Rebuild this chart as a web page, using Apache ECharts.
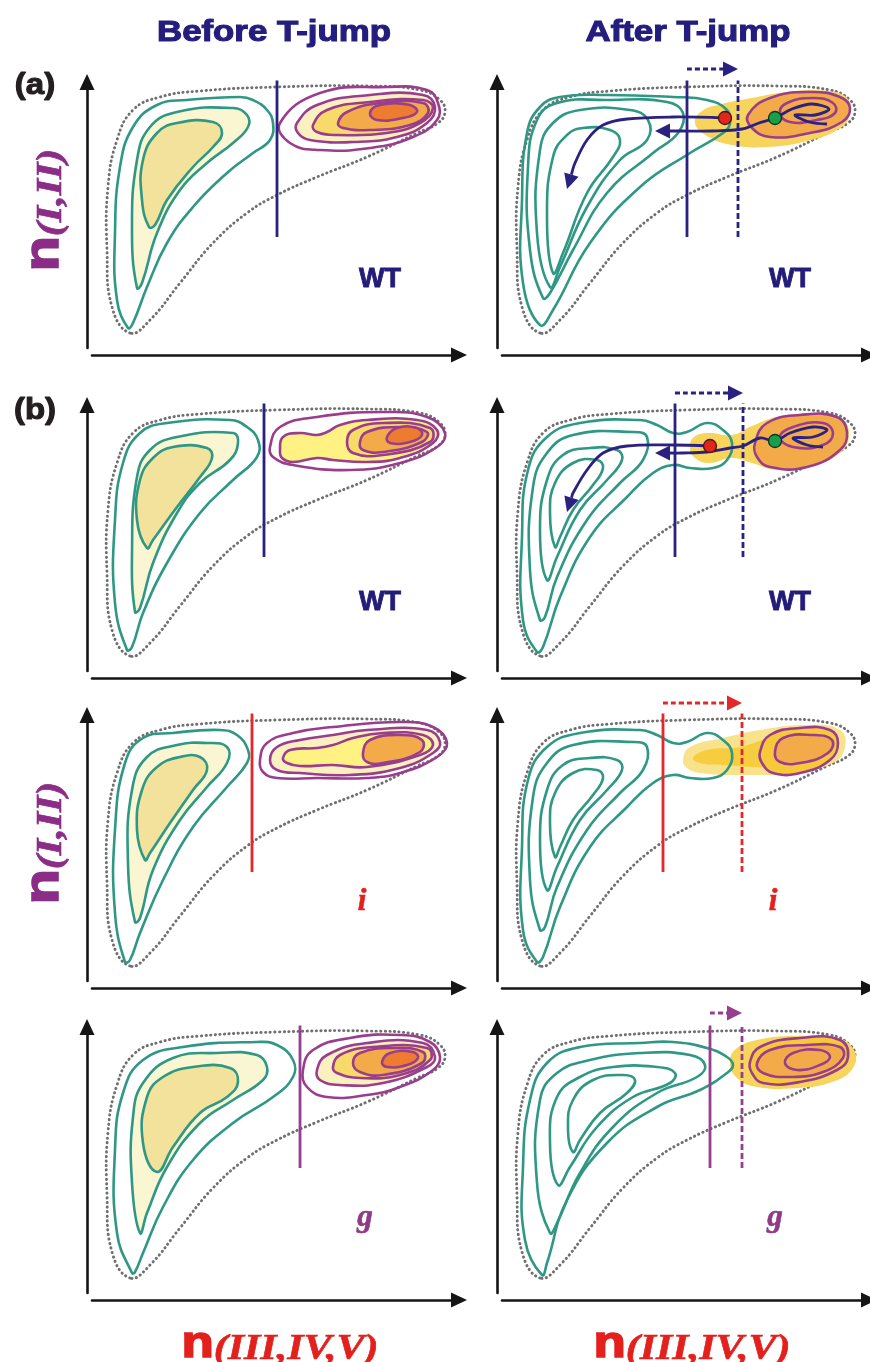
<!DOCTYPE html>
<html>
<head>
<meta charset="utf-8">
<script src="https://cdn.jsdelivr.net/npm/echarts@6.0.0/dist/echarts.min.js"></script>
<style>
html, body { margin: 0; padding: 0; background: #fff; }
#chart { width: 870px; height: 1362px; }
</style>
</head>
<body>
<div id="chart"></div>
<script>
// panel origins (pixel position of the y axis / x axis)
var X0 = [87, 497];
var Y0 = [355, 678, 988, 1300];

// dotted boundary, same in every panel
var outline = [[43,22],[25,48],[20,105],[21,168],[30,215],[46,245],[73,258],[113,264],[190,268],[280,269],[333,265],[353,255],[358,243],[351,232],[330,222],[280,198],[230,178],[190,160],[160,142],[126,112],[93,72],[63,35]];

// ---- row 1, before
var tealL1a = [[41,27],[30,55],[28,122],[33,188],[46,228],[70,250],[100,255],[153,258],[166,255],[180,245],[186,232],[183,215],[166,202],[140,182],[106,148],[80,112],[60,68],[46,32]];
var tealL1b = [[50,67],[45,122],[50,195],[63,228],[90,243],[146,247],[160,240],[161,228],[146,212],[120,192],[93,165],[70,122],[55,72]];
var tealL1c = [[62,128],[55,155],[56,195],[70,222],[90,232],[126,233],[135,222],[126,208],[106,188],[80,155],[68,130]];
var purL1a = [[193,232],[233,262],[300,268],[340,265],[351,252],[350,235],[326,218],[283,207],[233,205],[203,212]];
var purL1b = [[210,232],[230,250],[283,260],[336,260],[348,248],[340,232],[310,218],[266,213],[223,215],[211,222]];
var purL1c = [[226,230],[240,245],[283,253],[336,255],[346,247],[333,232],[300,222],[250,220],[230,223]];
var purL1d = [[251,232],[260,243],[293,252],[336,252],[341,242],[323,230],[283,225],[256,227]];
var purL1e = [[283,242],[293,250],[323,250],[330,243],[316,237],[290,235]];

// ---- row 1, after
var tealR1a = [[43,30],[26,72],[25,155],[30,222],[43,248],[63,258],[110,260],[176,258],[210,255],[230,245],[233,232],[226,222],[193,202],[143,168],[93,112],[56,45]];
var tealR1b = [[46,57],[33,105],[31,188],[40,235],[60,252],[110,255],[170,253],[186,242],[181,222],[156,202],[110,162],[76,105],[53,62]];
var tealR1c = [[53,68],[40,122],[43,205],[56,232],[83,245],[133,245],[151,235],[150,215],[123,195],[90,148],[63,88]];
var tealR1d = [[56,82],[50,138],[56,198],[70,220],[86,227],[113,225],[123,215],[116,198],[90,162],[66,102]];
var blobR1 = [[198,232],[205,244],[225,251],[255,257],[290,263],[330,264],[350,257],[353,241],[342,226],[310,214],[270,208],[235,210],[210,219]];
var purR1a = [[251,240],[273,257],[313,263],[343,258],[353,247],[345,233],[313,222],[273,218],[255,227]];
var purR1b = [[283,242],[290,252],[316,257],[336,252],[338,242],[320,235],[293,233]];
var pathR1a = [[228,237],[176,238],[130,236],[106,230],[90,215],[78,192],[70,166]];
var pathR1b = [[330,231],[312,233],[298,240],[318,240],[332,246],[315,251],[295,246],[278,237],[262,232],[245,226],[215,224],[185,224],[158,224]];

// ---- row 2, before
var tealL2a = [[40,28],[28,75],[28,158],[36,215],[53,245],[80,255],[143,258],[160,251],[171,238],[170,221],[146,198],[113,165],[80,115],[56,65],[45,31]];
var tealL2b = [[48,66],[45,125],[50,201],[63,228],[90,241],[146,245],[151,235],[143,218],[113,195],[90,165],[66,115],[53,70]];
var tealL2c = [[60,130],[50,158],[53,198],[66,220],[86,231],[120,230],[125,220],[113,201],[90,171],[66,138]];
var purL2a = [[183,231],[193,251],[230,261],[296,266],[340,261],[358,245],[350,231],[313,215],[263,208],[206,213],[186,221]];
var purL2b = [[193,228],[196,241],[213,245],[230,243],[240,246],[253,253],[280,258],[330,258],[350,248],[346,235],[313,220],[280,216],[246,218],[230,220],[206,216],[195,220]];
var purL2c = [[260,236],[266,248],[296,255],[343,250],[343,236],[296,223],[266,225]];
var purL2d = [[273,236],[280,246],[313,251],[340,246],[335,236],[296,226],[276,228]];
var purL2e = [[300,241],[310,250],[330,250],[335,243],[323,236],[303,235]];

// ---- row 2, after (teal also used in row 3)
var tealR2a = [[40,26],[26,58],[25,141],[31,208],[50,241],[83,255],[143,258],[160,253],[176,245],[190,246],[210,255],[226,248],[235,235],[230,218],[216,210],[193,210],[176,213],[156,205],[130,181],[93,141],[63,81],[46,31]];
var tealR2b = [[43,58],[33,108],[36,191],[50,225],[76,243],[136,246],[150,241],[146,218],[123,195],[90,158],[60,101],[48,61]];
var tealR2c = [[50,98],[43,148],[50,198],[66,223],[93,230],[120,228],[125,218],[110,198],[83,168],[60,121]];
var tealR2d = [[58,131],[53,165],[58,195],[76,215],[100,218],[106,210],[96,193],[76,168],[63,141]];
var blobR2 = [[193,230],[197,241],[212,245],[235,243],[255,252],[280,261],[315,264],[345,258],[352,243],[343,225],[315,212],[280,208],[255,215],[235,220],[212,215],[198,220]];
var purR2a = [[258,235],[270,255],[303,263],[340,261],[350,246],[343,228],[310,211],[273,211],[260,221]];
var purR2b = [[283,241],[296,251],[326,255],[336,245],[326,233],[296,231]];
var pathR2a = [[213,232],[176,233],[130,232],[106,225],[90,208],[76,185],[70,166]];
var pathR2b = [[326,231],[310,233],[296,240],[316,241],[330,248],[316,251],[293,245],[278,237],[263,240],[246,232],[233,230],[210,226],[185,225],[158,225]];

// ---- row 3 (i)
var tealL3a = [[38,26],[28,75],[28,158],[38,225],[56,250],[86,255],[133,258],[150,253],[161,238],[160,225],[140,201],[106,161],[76,108],[53,55],[43,28]];
var tealL3b = [[48,66],[41,125],[45,198],[60,231],[90,243],[120,245],[140,241],[140,225],[120,201],[93,168],[66,118],[53,70]];
var tealL3c = [[58,128],[50,158],[55,198],[70,221],[93,231],[113,231],[120,218],[106,198],[83,165],[63,135]];
var purL3a = [[173,228],[180,245],[206,255],[246,261],[313,266],[346,261],[360,245],[350,231],[313,215],[280,210],[230,210],[190,210],[176,216]];
var purL3b = [[183,228],[190,241],[213,248],[246,253],[280,258],[340,258],[353,246],[346,235],[313,220],[263,213],[213,215],[190,218]];
var purL3c = [[196,230],[203,238],[230,240],[246,243],[266,250],[296,255],[336,253],[346,243],[333,233],[280,221],[246,223],[213,222],[200,225]];
var purL3d = [[276,235],[283,248],[313,253],[335,248],[333,236],[296,225],[280,226]];
var bandR3a = [[186,228],[193,241],[226,250],[263,258],[310,263],[343,258],[348,241],[336,225],[293,215],[243,213],[203,215],[190,220]];
var bandR3b = [[196,230],[210,238],[243,241],[276,251],[326,258],[341,241],[326,228],[276,221],[226,223],[203,225]];
var purR3a = [[263,236],[273,253],[303,260],[333,258],[341,245],[333,228],[303,215],[276,215],[265,225]];
var purR3b = [[278,236],[286,250],[316,253],[335,248],[331,235],[303,225],[283,226]];

// ---- row 4 (g)
var tealL4a = [[45,27],[30,67],[28,150],[36,207],[56,240],[96,253],[170,258],[190,255],[206,240],[206,223],[186,203],[146,177],[106,140],[76,93],[56,47],[48,28]];
var tealL4b = [[53,67],[45,117],[46,183],[56,217],[86,242],[130,247],[170,245],[180,233],[176,220],[146,200],[113,177],[80,133],[60,87]];
var tealL4c = [[70,128],[56,157],[60,203],[76,223],[106,233],[143,232],[151,218],[140,203],[113,187],[86,153]];
var purL4a = [[216,230],[226,250],[263,262],[313,265],[343,258],[353,243],[346,230],[313,213],[280,205],[240,203],[220,213]];
var purL4b = [[230,230],[240,245],[280,257],[336,257],[348,243],[340,233],[296,217],[253,215],[233,220]];
var purL4c = [[246,233],[253,245],[286,253],[340,252],[343,240],[313,225],[273,222],[250,227]];
var purL4d = [[266,237],[273,247],[306,252],[336,248],[335,237],[296,225],[273,228]];
var purL4e = [[295,238],[303,247],[326,248],[331,242],[320,235],[300,233]];
var tealR4a = [[45,25],[28,60],[26,133],[33,200],[50,237],[83,253],[143,257],[176,258],[210,252],[230,243],[236,235],[230,227],[203,210],[160,193],[110,157],[70,100],[50,37]];
var tealR4b = [[53,67],[40,117],[43,200],[60,227],[93,240],[143,247],[193,245],[208,235],[200,223],[160,207],[116,173],[83,127],[60,77]];
var tealR4c = [[61,115],[53,157],[60,203],[83,223],[116,233],[160,233],[178,227],[173,217],[136,203],[100,173],[73,133]];
var tealR4d = [[76,148],[71,173],[76,200],[96,220],[126,225],[138,220],[130,207],[103,187],[83,160]];
var blobR4 = [[233,238],[240,252],[265,261],[300,264],[340,262],[357,250],[356,232],[335,218],[300,212],[260,213],[240,222]];
var purR4a = [[253,238],[263,253],[303,262],[343,260],[351,243],[340,230],[303,218],[266,217],[255,227]];
var purR4b = [[260,237],[273,250],[310,255],[343,253],[346,242],[326,228],[293,223],[266,227]];
var purR4c = [[288,237],[296,247],[323,250],[333,243],[323,235],[300,230]];

// dividing lines, shift arrows and markers per panel (index = row*2 + col)
var cutX = [190, 190, 177, 178, 165, 166, 213, 213];
var cutY = [[118,293],[118,293],[121,291],[121,291],[116,288],[116,288],[132,295],[132,295]];
var shiftX = [null, 241, null, 246, null, 245, null, 245];
var shiftY = [null, 286, null, 285, null, 285, null, 287];
var redDot = [null, [228,237], null, [213,232], null, null, null, null];
var greenDot = [null, [278,237], null, [278,237], null, null, null, null];
var tags = ['WT', 'WT', 'WT', 'WT', 'i', 'i', 'g', 'g'];
var tagPos = [[293,75],[293,75],[293,75],[293,75],[275,86],[276,86],[278,82],[278,82]];

var TEAL = '#2e9884', PUR = '#9a3d8d', NAVY = '#2a2180', RED = '#e5262b', LILAC = '#973e8e';
var rowColor = [NAVY, NAVY, RED, LILAC];
var tagColor = ['#231c78', '#231c78', '#e4201f', '#8e3a86'];
var LW = 2.6;

var styles = {
  dot: { fill: 'none', stroke: '#6f6f6f', lineWidth: 2.9, lineDash: [0.3, 4.3], lineCap: 'round' },
  teal: { fill: 'none', stroke: TEAL, lineWidth: LW },
  tealPale: { fill: '#fbf6d2', stroke: TEAL, lineWidth: LW },
  tealMid: { fill: '#f3e29b', stroke: TEAL, lineWidth: LW },
  pur: { fill: 'none', stroke: PUR, lineWidth: LW },
  purPale: { fill: '#fbf1c0', stroke: PUR, lineWidth: LW },
  purBright: { fill: '#fff283', stroke: PUR, lineWidth: LW },
  purYellow: { fill: '#f8da6a', stroke: PUR, lineWidth: LW },
  purGold: { fill: '#f6c83a', stroke: PUR, lineWidth: LW },
  purOrange: { fill: '#f3ab4a', stroke: PUR, lineWidth: LW },
  purDeep: { fill: '#ee7c30', stroke: PUR, lineWidth: LW },
  blob: { fill: '#f7d55c', lineWidth: 0 },
  bandLight: { fill: '#f9e28c', lineWidth: 0 },
  bandGold: { fill: '#f6cd3e', lineWidth: 0 }
};

var layers = [
  [[outline,'dot'],[tealL1a,'teal'],[tealL1b,'tealPale'],[tealL1c,'tealMid'],[purL1a,'pur'],[purL1b,'purPale'],[purL1c,'purYellow'],[purL1d,'purOrange'],[purL1e,'purDeep']],
  [[outline,'dot'],[blobR1,'blob'],[tealR1a,'teal'],[tealR1b,'teal'],[tealR1c,'teal'],[tealR1d,'teal'],[purR1a,'purOrange'],[purR1b,'purOrange']],
  [[outline,'dot'],[tealL2a,'teal'],[tealL2b,'tealPale'],[tealL2c,'tealMid'],[purL2a,'pur'],[purL2b,'purBright'],[purL2c,'purYellow'],[purL2d,'purOrange'],[purL2e,'purDeep']],
  [[outline,'dot'],[blobR2,'blob'],[tealR2a,'teal'],[tealR2b,'teal'],[tealR2c,'teal'],[tealR2d,'teal'],[purR2a,'purOrange'],[purR2b,'purOrange']],
  [[outline,'dot'],[tealL3a,'teal'],[tealL3b,'tealPale'],[tealL3c,'tealMid'],[purL3a,'pur'],[purL3b,'purPale'],[purL3c,'purBright'],[purL3d,'purOrange']],
  [[outline,'dot'],[bandR3a,'bandLight'],[bandR3b,'bandGold'],[tealR2a,'teal'],[tealR2b,'teal'],[tealR2c,'teal'],[tealR2d,'teal'],[purR3a,'purGold'],[purR3b,'purOrange']],
  [[outline,'dot'],[tealL4a,'teal'],[tealL4b,'tealPale'],[tealL4c,'tealMid'],[purL4a,'pur'],[purL4b,'purPale'],[purL4c,'purYellow'],[purL4d,'purOrange'],[purL4e,'purDeep']],
  [[outline,'dot'],[blobR4,'blob'],[tealR4a,'teal'],[tealR4b,'teal'],[tealR4c,'teal'],[tealR4d,'teal'],[purR4a,'purGold'],[purR4b,'purOrange'],[purR4c,'purOrange']]
];
var paths = [[], [pathR1a, pathR1b], [], [pathR2a, pathR2b], [], [], [], []];

function loopSeries(i, pts, st, z) {
  return {
    type: 'custom', xAxisIndex: i, yAxisIndex: i, data: pts, clip: false, silent: true, z: z,
    renderItem: function (params, api) {
      if (params.dataIndex) return null;
      var p = pts.map(function (d) { return api.coord(d); });
      return { type: 'polygon', shape: { points: p, smooth: 0.45 }, style: st };
    }
  };
}

function arrowSeries(i, pts, color, dash, head, width) {
  return {
    type: 'custom', xAxisIndex: i, yAxisIndex: i, data: pts, clip: false, silent: true, z: 6,
    renderItem: function (params, api) {
      if (params.dataIndex) return null;
      var p = pts.map(function (d) { return api.coord(d); });
      var a = p[p.length - 2], b = p[p.length - 1];
      var dx = b[0] - a[0], dy = b[1] - a[1];
      var len = Math.sqrt(dx * dx + dy * dy) || 1;
      var ux = dx / len, uy = dy / len;
      var base = [b[0] - ux * head, b[1] - uy * head];
      var w = head * 0.5;
      var line = p.slice(0, -1).concat([base]);
      return {
        type: 'group',
        children: [
          { type: 'polyline', shape: { points: line, smooth: 0.35 },
            style: { stroke: color, lineWidth: width, lineDash: dash, fill: 'none' } },
          { type: 'polygon', shape: { points: [b, [base[0] - uy * w, base[1] + ux * w], [base[0] + uy * w, base[1] - ux * w]] },
            style: { fill: color } }
        ]
      };
    }
  };
}

var grids = [], xAxes = [], yAxes = [], series = [], graphics = [];
var axisLine = { show: true, symbol: ['none', 'triangle'], symbolSize: [15, 16], lineStyle: { color: '#151515', width: 2.6 } };

for (var r = 0; r < 4; r++) {
  for (var c = 0; c < 2; c++) {
    var i = r * 2 + c;
    grids.push({ left: X0[c] + 5, top: Y0[r] - 273, width: 367, height: 266 });
    xAxes.push({ gridIndex: i, type: 'value', min: 5, max: 372, offset: 7, axisLine: axisLine,
      axisTick: { show: false }, axisLabel: { show: false }, splitLine: { show: false } });
    yAxes.push({ gridIndex: i, type: 'value', min: 7, max: 273, offset: 5, axisLine: axisLine,
      axisTick: { show: false }, axisLabel: { show: false }, splitLine: { show: false } });

    layers[i].forEach(function (L, k) {
      series.push(loopSeries(i, L[0], styles[L[1]], 2 + k * 0.01));
    });

    var col = rowColor[r];
    series.push({ type: 'line', xAxisIndex: i, yAxisIndex: i, data: [[cutX[i], cutY[i][0]], [cutX[i], cutY[i][1]]],
      showSymbol: false, silent: true, z: 5, lineStyle: { color: col, width: 2.8 } });
    if (shiftX[i] !== null) {
      series.push({ type: 'line', xAxisIndex: i, yAxisIndex: i, data: [[shiftX[i], cutY[i][0]], [shiftX[i], cutY[i][1]]],
        showSymbol: false, silent: true, z: 5, lineStyle: { color: col, width: 2.8, type: [6, 3] } });
      series.push(arrowSeries(i, [[cutX[i], shiftY[i]], [shiftX[i], shiftY[i]]], col, [5, 3], 15, 2.8));
    }
    paths[i].forEach(function (p) {
      series.push(arrowSeries(i, p, NAVY, null, 15, 2.8));
    });
    if (redDot[i]) {
      series.push({ type: 'scatter', xAxisIndex: i, yAxisIndex: i, data: [redDot[i]], symbolSize: 13, z: 7, silent: true,
        itemStyle: { color: '#e2261c', borderColor: '#4a1414', borderWidth: 1.3, opacity: 1 } });
      series.push({ type: 'scatter', xAxisIndex: i, yAxisIndex: i, data: [greenDot[i]], symbolSize: 13, z: 7, silent: true,
        itemStyle: { color: '#16a04c', borderColor: '#10331c', borderWidth: 1.3, opacity: 1 } });
    }

    var isSerif = tags[i] !== 'WT';
    graphics.push({ type: 'text', x: X0[c] + tagPos[i][0], y: Y0[r] - tagPos[i][1], z: 10,
      style: { text: tags[i], fill: tagColor[r], stroke: tagColor[r], lineWidth: isSerif ? 0.6 : 0.9,
        fontFamily: isSerif ? 'Liberation Serif' : 'Liberation Sans', fontWeight: 'bold',
        fontStyle: isSerif ? 'italic' : 'normal', fontSize: isSerif ? 31 : 27,
        textAlign: 'center', textVerticalAlign: 'middle', align: 'center', verticalAlign: 'middle' } });
  }
}

function label(txt, x, y, size, color, sx) {
  return { type: 'text', x: x, y: y, scaleX: sx, z: 10,
    style: { text: txt, fill: color, stroke: color, lineWidth: 1.1, fontFamily: 'Liberation Sans', fontWeight: 'bold', fontSize: size,
      textAlign: 'center', textVerticalAlign: 'middle', align: 'center', verticalAlign: 'middle' } };
}
graphics.push(label('Before T-jump', 274, 33, 29, '#251d7e', 1.2));
graphics.push(label('After T-jump', 688, 33, 29, '#251d7e', 1.2));
graphics.push(label('(a)', 35, 86, 30, '#231f20', 1.1));
graphics.push(label('(b)', 35, 411, 30, '#231f20', 1.1));

function richLabel(txt, x, y, color, nSize, rSize, rot) {
  return { type: 'text', x: x, y: y, rotation: rot, scaleX: 1.2, z: 10,
    style: { text: txt, textAlign: 'center', textVerticalAlign: 'middle', align: 'center', verticalAlign: 'middle',
      rich: {
        n: { fontFamily: 'Liberation Sans', fontWeight: 'bold', fontSize: nSize, fill: color, stroke: color, lineWidth: 1.6, verticalAlign: 'bottom' },
        r: { fontFamily: 'Liberation Serif', fontWeight: 'bold', fontStyle: 'italic', fontSize: rSize, fill: color, stroke: color, lineWidth: 0.6, verticalAlign: 'bottom' }
      } } };
}
graphics.push(richLabel('{n|n}{r|(I,II)}', 45, 210, '#8b2d86', 48, 35, Math.PI / 2));
graphics.push(richLabel('{n|n}{r|(I,II)}', 45, 843, '#8b2d86', 48, 35, Math.PI / 2));
graphics.push(richLabel('{n|n}{r|(III,IV,V)}', 280, 1345, '#e3201b', 44, 35, 0));
graphics.push(richLabel('{n|n}{r|(III,IV,V)}', 692, 1345, '#e3201b', 44, 35, 0));

var chart = echarts.init(document.getElementById('chart'), null, { renderer: 'canvas' });
chart.setOption({
  backgroundColor: '#ffffff',
  animation: false,
  grid: grids,
  xAxis: xAxes,
  yAxis: yAxes,
  series: series,
  graphic: graphics
});
</script>
</body>
</html>
